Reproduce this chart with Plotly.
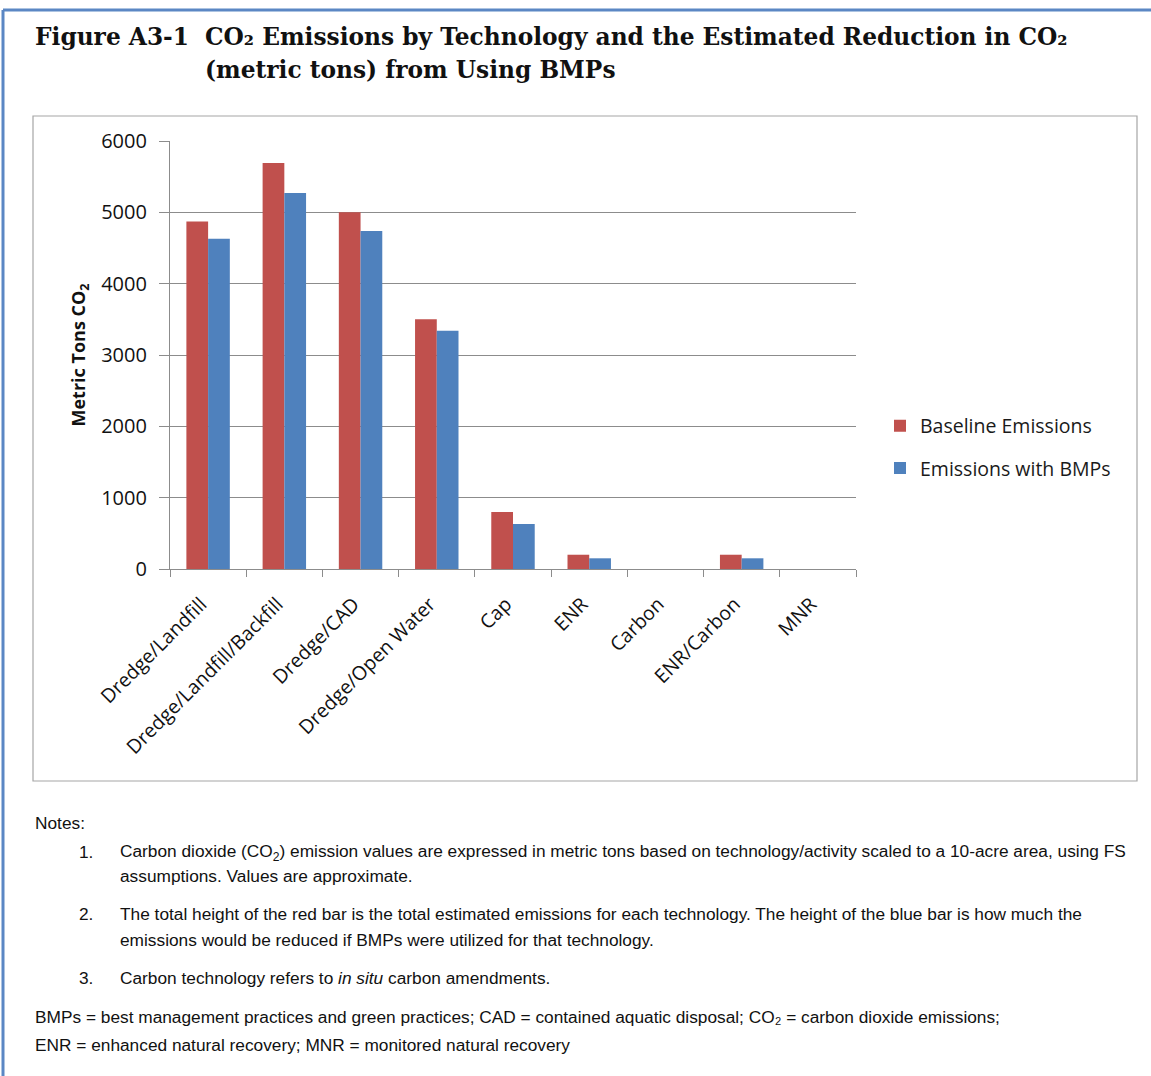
import plotly.graph_objects as go

# Technology categories and CO2 emissions (metric tons)
technologies = ["Dredge/Landfill", "Dredge/Landfill/Backfill", "Dredge/CAD",
                "Dredge/Open Water", "Cap", "ENR", "Carbon", "ENR/Carbon", "MNR"]
baseline_emissions = [4870, 5690, 5000, 3500, 800, 200, 0, 200, 0]
emissions_with_bmps = [4630, 5270, 4740, 3340, 630, 150, 0, 150, 0]
y_ticks = [0, 1000, 2000, 3000, 4000, 5000, 6000]

W, H = 1151, 1076
ML, MR, MT, MB = 170, 295, 141, 507
PW, PH = W - ML - MR, H - MT - MB


def px(x, y):
    """Convert page pixel coordinates to paper coordinates."""
    return (x - ML) / PW, (H - MB - y) / PH


RED = "#c0504d"
BLUE = "#4f81bd"
TICK_FONT = "Open Sans, Lato, sans-serif"
SERIF = "DejaVu Serif, serif"
NOTE_FONT = "Liberation Sans, Arial, sans-serif"

fig = go.Figure()
fig.add_trace(go.Bar(x=technologies, y=baseline_emissions, name="Baseline Emissions",
                     marker=dict(color=RED, line=dict(width=0)), legendgroup="a"))
fig.add_trace(go.Bar(x=technologies, y=emissions_with_bmps, name="Emissions with BMPs",
                     marker=dict(color=BLUE, line=dict(width=0)), legendgroup="b"))

shapes = []
# outer blue page frame (top and left edges)
x0, y0 = px(3, 10)
x1, y1 = px(1151, 1076)
shapes.append(dict(type="line", xref="paper", yref="paper", x0=x0, y0=y0, x1=x1, y1=y0,
                   line=dict(color="#5b87c4", width=3)))
shapes.append(dict(type="line", xref="paper", yref="paper", x0=x0, y0=y0, x1=x0, y1=y1,
                   line=dict(color="#5b87c4", width=3)))
# chart frame
cx0, cy0 = px(33, 116)
cx1, cy1 = px(1137, 781)
shapes.append(dict(type="rect", xref="paper", yref="paper", x0=cx0, y0=cy1, x1=cx1, y1=cy0,
                   line=dict(color="#a6a6a6", width=1.2), fillcolor="rgba(0,0,0,0)"))

annotations = []


def text(x, y, s, size, family, anchor="left", color="#111111"):
    ax, ay = px(x, y)
    annotations.append(dict(x=ax, y=ay, xref="paper", yref="paper", text=s, showarrow=False,
                            xanchor=anchor, yanchor="middle",
                            font=dict(size=size, family=family, color=color)))


# heading
TS = 23.3
text(33, 37, "<b>Figure A3-1</b>", TS, SERIF)
text(203, 37, "<b>CO₂ Emissions by Technology and the Estimated Reduction in CO₂</b>", TS, SERIF)
text(203, 70, "<b>(metric tons) from Using BMPs</b>", TS, SERIF)

# notes
NS = 17.3
text(33, 823, "Notes:", NS, NOTE_FONT)
text(77, 852, "1.", NS, NOTE_FONT)
text(118, 852, "Carbon dioxide (CO<sub>2</sub>) emission values are expressed in metric tons based on "
               "technology/activity scaled to a 10-acre area, using FS", NS, NOTE_FONT)
text(118, 876, "assumptions. Values are approximate.", NS, NOTE_FONT)
text(77, 914, "2.", NS, NOTE_FONT)
text(118, 914, "The total height of the red bar is the total estimated emissions for each technology. "
               "The height of the blue bar is how much the", NS, NOTE_FONT)
text(118, 940, "emissions would be reduced if BMPs were utilized for that technology.", NS, NOTE_FONT)
text(77, 978, "3.", NS, NOTE_FONT)
text(118, 978, "Carbon technology refers to <i>in situ</i> carbon amendments.", NS, NOTE_FONT)
text(33, 1017, "BMPs = best management practices and green practices; CAD = contained aquatic disposal; "
               "CO₂ = carbon dioxide emissions;", NS, NOTE_FONT)
text(33, 1045, "ENR = enhanced natural recovery; MNR = monitored natural recovery", NS, NOTE_FONT)

lx, ly = px(880, 447)

fig.update_layout(
    width=W, height=H,
    margin=dict(l=ML, r=MR, t=MT, b=MB),
    paper_bgcolor="white", plot_bgcolor="white",
    barmode="group", bargap=0.43, bargroupgap=0,
    showlegend=True,
    legend=dict(x=lx, y=ly, xanchor="left", yanchor="middle",
                font=dict(size=19.5, family=TICK_FONT, color="#1a1a1a"),
                tracegroupgap=14, bgcolor="rgba(0,0,0,0)"),
    shapes=shapes, annotations=annotations,
    xaxis=dict(
        type="category", tickangle=-45, tickson="boundaries",
        ticks="outside", ticklen=7, tickcolor="#8c8c8c", tickwidth=1.2,
        showline=True, linecolor="#8c8c8c", linewidth=1.2,
        showgrid=False, ticklabelstandoff=15, ticklabelshift=-7,
        tickfont=dict(size=19.5, family=TICK_FONT, color="#111111"),
    ),
    yaxis=dict(
        range=[0, 6000], tickvals=y_ticks,
        ticks="outside", ticklen=10, tickcolor="#8c8c8c", tickwidth=1.2,
        showline=True, linecolor="#8c8c8c", linewidth=1.2,
        showgrid=True, gridcolor="#8c8c8c", gridwidth=1.2,
        zeroline=False, ticklabelstandoff=8,
        tickfont=dict(size=20, family=TICK_FONT, color="#111111"),
        title=dict(text="<b>Metric Tons CO<sub>2</sub></b>", standoff=10,
                   font=dict(size=18, family=TICK_FONT, color="#111111")),
    ),
)

fig.write_html("out.html")
